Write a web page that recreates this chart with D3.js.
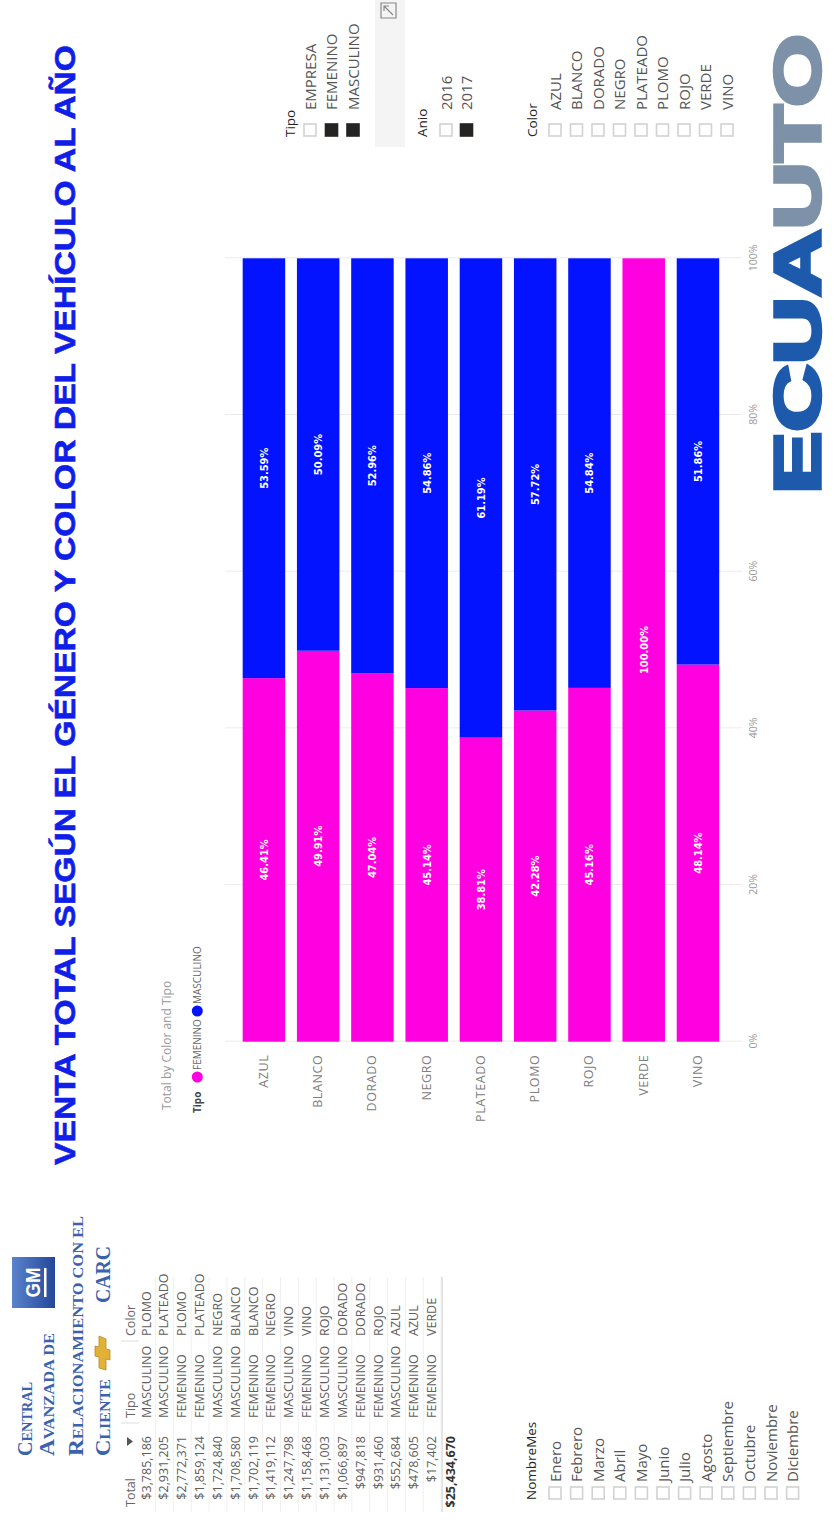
<!DOCTYPE html>
<html><head><meta charset="utf-8">
<script src="https://cdn.jsdelivr.net/npm/d3@7"></script>
<style>body{margin:0;background:#fff}svg{display:block}</style>
</head><body>
<svg id="c" width="834" height="1522"></svg>
<script>
// ---------- DATA ----------
const colores = ["AZUL","BLANCO","DORADO","NEGRO","PLATEADO","PLOMO","ROJO","VERDE","VINO"];
const tipos = ["FEMENINO","MASCULINO"];
const femeninoTotal = [478605,1702119,947818,1419112,1859124,2772371,931460,17402,1158468];
const masculinoTotal = [552684,1708580,1066897,1724840,2931205,3785186,1131003,0,1247798];
const pctTicks = [0,0.2,0.4,0.6,0.8,1];

const tablaTotal = ["$3,785,186","$2,931,205","$2,772,371","$1,859,124","$1,724,840","$1,708,580","$1,702,119","$1,419,112","$1,247,798","$1,158,468","$1,131,003","$1,066,897","$947,818","$931,460","$552,684","$478,605","$17,402"];
const tablaTipo = ["MASCULINO","MASCULINO","FEMENINO","FEMENINO","MASCULINO","MASCULINO","FEMENINO","FEMENINO","MASCULINO","FEMENINO","MASCULINO","MASCULINO","FEMENINO","FEMENINO","MASCULINO","FEMENINO","FEMENINO"];
const tablaColor = ["PLOMO","PLATEADO","PLOMO","PLATEADO","NEGRO","BLANCO","BLANCO","NEGRO","VINO","VINO","ROJO","DORADO","DORADO","ROJO","AZUL","AZUL","VERDE"];
const granTotal = "$25,434,670";

const meses = ["Enero","Febrero","Marzo","Abril","Mayo","Junio","Julio","Agosto","Septiembre","Octubre","Noviembre","Diciembre"];
const tipoSlicer = ["EMPRESA","FEMENINO","MASCULINO"];
const tipoMarcado = [false,true,true];
const anios = ["2016","2017"];
const anioMarcado = [false,true];

const tipoColor = {FEMENINO:"#ff00e1", MASCULINO:"#0313ff"};

// ---------- SETUP (landscape group rotated -90deg) ----------
const svg = d3.select("#c");
const g = svg.append("g").attr("transform","translate(0,1522) rotate(-90)");
const FONT = "'Open Sans', 'Noto Sans', sans-serif";

// ---------- TITLE ----------
g.append("text")
  .attr("x",357).attr("y",75)
  .attr("font-family","'Liberation Sans',Arial,sans-serif")
  .attr("font-weight","bold").attr("font-size",29.5)
  .attr("fill","#0f1ee8").attr("stroke","#0f1ee8").attr("stroke-width",0.6)
  .attr("textLength",1120).attr("lengthAdjust","spacingAndGlyphs")
  .text("VENTA TOTAL SEGÚN EL GÉNERO Y COLOR DEL VEHÍCULO AL AÑO");

// ---------- CHART ----------
const rows = colores.map((c,i)=>({color:c, FEMENINO:femeninoTotal[i], MASCULINO:masculinoTotal[i]}));
const series = d3.stack().keys(tipos).offset(d3.stackOffsetExpand)(rows);

const x = d3.scaleLinear().domain([0,1]).range([480.3,1263.7]);
const y = d3.scaleBand().domain(colores).range([236.8,725.1]).paddingInner(0.2166).paddingOuter(0.1083);

// grid + value axis
const xAxis = g.append("g").attr("transform","translate(0,742)")
  .call(d3.axisBottom(x).tickValues(pctTicks).tickFormat(d3.format(".0%")).tickSizeInner(-517).tickSizeOuter(0).tickPadding(8));
xAxis.select(".domain").remove();
xAxis.selectAll(".tick line").attr("stroke","#ececec");
xAxis.selectAll(".tick text").attr("fill","#9a9a9a").attr("font-family",FONT).attr("font-size",10.5);

// bars
const layer = g.append("g").selectAll("g").data(series).join("g").attr("fill",d=>tipoColor[d.key]);
layer.selectAll("rect").data(d=>d).join("rect")
  .attr("x",d=>x(d[0])).attr("width",d=>Math.max(0,x(d[1])-x(d[0])))
  .attr("y",d=>y(d.data.color)).attr("height",y.bandwidth());

// value labels
const fmt = d3.format(".2%");
g.append("g").selectAll("g").data(series).join("g")
  .selectAll("text").data(d=>d.filter(v=>v[1]-v[0]>0)).join("text")
  .attr("x",d=>x((d[0]+d[1])/2)).attr("y",d=>y(d.data.color)+y.bandwidth()/2)
  .attr("dy","0.36em").attr("text-anchor","middle")
  .attr("fill","#fff").attr("font-family","'DejaVu Sans Condensed','Open Sans',sans-serif")
  .attr("font-weight","bold").attr("font-size",11)
  .text(d=>fmt(d[1]-d[0]));

// category axis
const yAxis = g.append("g").attr("transform","translate(480.3,0)")
  .call(d3.axisLeft(y).tickSize(0).tickPadding(13));
yAxis.select(".domain").remove();
yAxis.selectAll(".tick text").attr("fill","#808080").attr("font-family",FONT).attr("font-size",12.5).attr("letter-spacing",0.6);

// legend
g.append("text").attr("x",412).attr("y",171).attr("font-family",FONT).attr("font-size",12)
  .attr("fill","#9a9a9a").text("Total by Color and Tipo");
g.append("text").attr("x",409).attr("y",201).attr("font-family",FONT).attr("font-size",10)
  .attr("font-weight","bold").attr("fill","#444").text("Tipo");
const legX = [445, 511];
tipos.forEach((t,i)=>{
  g.append("circle").attr("cx",legX[i]).attr("cy",197.3).attr("r",5.5).attr("fill",tipoColor[t]);
  g.append("text").attr("x",legX[i]+7).attr("y",200.8).attr("font-family",FONT).attr("font-size",10)
    .attr("fill","#666").text(t);
});

// ---------- CARC LOGO ----------
const logo = g.append("g").attr("font-family","'Liberation Serif','DejaVu Serif',serif")
  .attr("font-weight","bold").attr("fill","#3a62ad");
function scLine(first, rest, u, v, len){
  const t = logo.append("text").attr("x",u).attr("y",v).attr("textLength",len).attr("lengthAdjust","spacingAndGlyphs");
  t.append("tspan").attr("font-size",22).text(first);
  t.append("tspan").attr("font-size",15.5).text(rest);
}
scLine("C","ENTRAL",66,32,74);
scLine("A","VANZADA DE",66,54,123);
scLine("R","ELACIONAMIENTO CON EL",66,83,240);
scLine("C","LIENTE",66,110,77);
logo.append("text").attr("x",219).attr("y",110).attr("font-size",22).attr("textLength",57)
  .attr("lengthAdjust","spacingAndGlyphs").text("CARC");
// chevrolet bowtie
g.append("path").attr("transform","translate(170,102)")
  .attr("d","M-16,-3 L-5,-3 L-4,-7 L6,-7 L5,-3 L16,-3 L13,4 L3,4 L2,8 L-8,8 L-7,4 L-18,4 Z")
  .attr("fill","#e2b236").attr("stroke","#b88a1e").attr("stroke-width",0.8);
// GM box
const gm = g.append("g");
const grad = svg.append("defs").append("linearGradient").attr("id","gmg").attr("x1",0).attr("y1",0).attr("x2",0).attr("y2",1);
grad.append("stop").attr("offset",0).attr("stop-color","#5b83cc");
grad.append("stop").attr("offset",1).attr("stop-color","#24479a");
gm.append("rect").attr("x",214).attr("y",12).attr("width",51).attr("height",43).attr("fill","url(#gmg)");
gm.append("text").attr("x",239.5).attr("y",40).attr("text-anchor","middle").attr("font-family","'Liberation Sans',Arial,sans-serif")
  .attr("font-weight","bold").attr("font-size",21).attr("fill","#fff").attr("textLength",30).attr("lengthAdjust","spacingAndGlyphs").text("GM");
gm.append("rect").attr("x",225).attr("y",44).attr("width",29).attr("height",2.5).attr("fill","#fff");

// ---------- TABLE ----------
const tb = g.append("g").attr("font-family",FONT).attr("font-size",12.5);
tb.append("text").attr("x",15).attr("y",135).attr("fill","#666").text("Total");
tb.append("path").attr("d","M76,127 L85,127 L80.5,133 Z").attr("fill","#555");
tb.append("text").attr("x",104).attr("y",135).attr("fill","#666").text("Tipo");
tb.append("text").attr("x",186).attr("y",135).attr("fill","#666").text("Color");
[99,181].forEach(u=>tb.append("line").attr("x1",u).attr("x2",u).attr("y1",121).attr("y2",139).attr("stroke","#ddd"));
const rowV = i => 150.5 + i*17.85;
tablaTotal.forEach((t,i)=>{
  tb.append("line").attr("x1",10).attr("x2",245).attr("y1",rowV(i)+5).attr("y2",rowV(i)+5).attr("stroke","#f0f0f0");
  tb.append("text").attr("x",86).attr("y",rowV(i)).attr("text-anchor","end").attr("fill","#605e5c").text(t);
  tb.append("text").attr("x",104).attr("y",rowV(i)).attr("fill","#605e5c").text(tablaTipo[i]);
  tb.append("text").attr("x",186).attr("y",rowV(i)).attr("fill","#605e5c").text(tablaColor[i]);
});
tb.append("line").attr("x1",10).attr("x2",245).attr("y1",rowV(16)+6).attr("y2",rowV(16)+6).attr("stroke","#cfcfcf");
tb.append("text").attr("x",86).attr("y",rowV(16)+19).attr("text-anchor","end").attr("font-weight","bold").attr("fill","#333").text(granTotal);

// ---------- SLICERS ----------
function slicer(title, items, checked, uBox, uLabel, titleV, v0, step){
  const s = g.append("g").attr("font-family",FONT);
  s.append("text").attr("x",uBox).attr("y",titleV).attr("font-size",13.5).attr("fill","#252423").text(title);
  items.forEach((it,i)=>{
    const vc = v0 + i*step;
    s.append("rect").attr("x",uBox+1).attr("y",vc-6).attr("width",12).attr("height",12)
      .attr("fill",checked[i]?"#252423":"#fff").attr("stroke",checked[i]?"#252423":"#d2d2d2").attr("stroke-width",1.6);
    s.append("text").attr("x",uLabel).attr("y",vc+5.5).attr("font-size",15).attr("fill","#555").text(it);
  });
}
slicer("NombreMes", meses, meses.map(()=>false), 22, 40, 536, 555, 21.6);
slicer("Tipo", tipoSlicer, tipoMarcado, 1385, 1412, 295, 310, 21.5);
slicer("Anio", anios, anioMarcado, 1385, 1412, 427, 446, 20.5);
slicer("Color", colores, colores.map(()=>false), 1385, 1412, 537, 555, 21.5);

// focus-mode panel
g.append("rect").attr("x",1375).attr("y",375).attr("width",147).attr("height",30).attr("fill","#f4f4f4");
const ic = g.append("g").attr("fill","none").attr("stroke","#888").attr("stroke-width",1.2);
ic.append("path").attr("d","M1504,381 L1504,396 L1519,396 L1519,381 Z");
ic.append("path").attr("d","M1507,393 L1516,384 M1511,384 L1516,384 L1516,389");

// ---------- ECUAUTO LOGO ----------
const ec = g.append("text").attr("x",1028).attr("y",820)
  .attr("font-family","'Liberation Sans',Arial,sans-serif").attr("font-weight","bold").attr("font-size",64)
  .attr("stroke-width",3.5).attr("stroke-linejoin","miter")
  .attr("textLength",460).attr("lengthAdjust","spacingAndGlyphs");
ec.append("tspan").attr("fill","#1d5aab").attr("stroke","#1d5aab").text("ECUA");
ec.append("tspan").attr("fill","#7d91a9").attr("stroke","#7d91a9").text("UTO");
</script>
</body></html>
